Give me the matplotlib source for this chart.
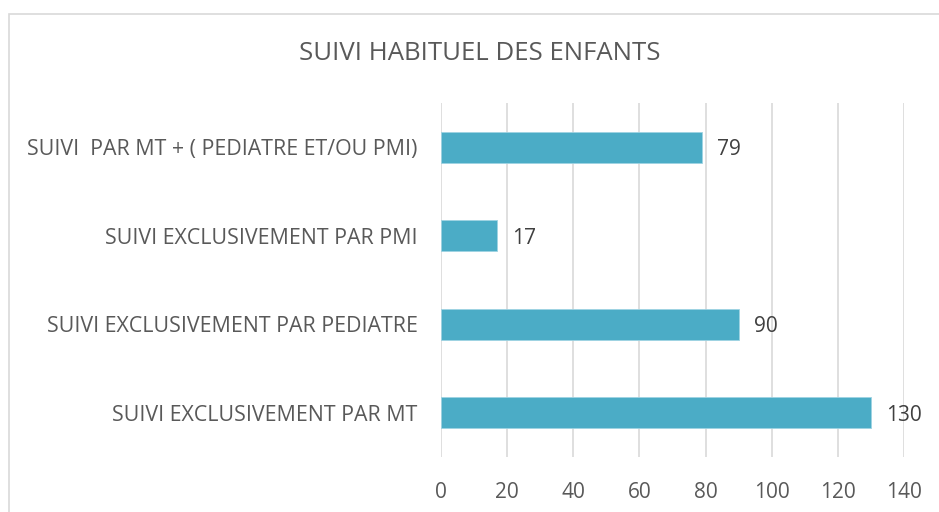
import matplotlib.pyplot as plt
from matplotlib.patches import Rectangle

categories = [
    "SUIVI EXCLUSIVEMENT PAR MT",
    "SUIVI EXCLUSIVEMENT PAR PEDIATRE",
    "SUIVI EXCLUSIVEMENT PAR PMI",
    "SUIVI  PAR MT + ( PEDIATRE ET/OU PMI)",
]
values = [130, 90, 17, 79]
xticks = [0, 20, 40, 60, 80, 100, 120, 140]

plt.rcParams["font.family"] = ["Open Sans", "DejaVu Sans"]

fig = plt.figure(figsize=(9.39, 5.12), dpi=100)
ax = fig.add_axes([441 / 939, 55 / 512, 463 / 939, 354 / 512])

# chart frame
fig.patches.append(Rectangle((9 / 939, -0.1), 1.2, 1.1 - 14 / 512, transform=fig.transFigure,
                             fill=False, edgecolor="#d9d9d9", linewidth=1.2))

pos = range(len(categories))
ax.barh(pos, values, height=0.35, color="#4bacc6", edgecolor="#9fd3e2", linewidth=0.6, zorder=3)
for p, v in zip(pos, values):
    ax.text(v + 4.5, p - 0.03, str(v), va="center", ha="left", fontsize=15, color="#404040")

ax.set_xlim(0, 140)
ax.set_ylim(-0.5, 3.5)
ax.set_xticks(xticks)
ax.set_xticklabels([str(t) for t in xticks])
ax.set_yticks(list(pos))
ax.set_yticklabels(categories)
ax.tick_params(axis="both", length=0, labelsize=15, labelcolor="#595959")
ax.tick_params(axis="y", labelsize=15.4, pad=17)
ax.tick_params(axis="x", pad=18)
ax.grid(axis="x", color="#d9d9d9", linewidth=1.2, zorder=0)
for s in ax.spines.values():
    s.set_visible(False)

fig.text(480 / 939, 1 - 53 / 512, "SUIVI HABITUEL DES ENFANTS", ha="center", va="center",
         fontsize=18.5, color="#595959")

fig.savefig("out.png", dpi=100)
